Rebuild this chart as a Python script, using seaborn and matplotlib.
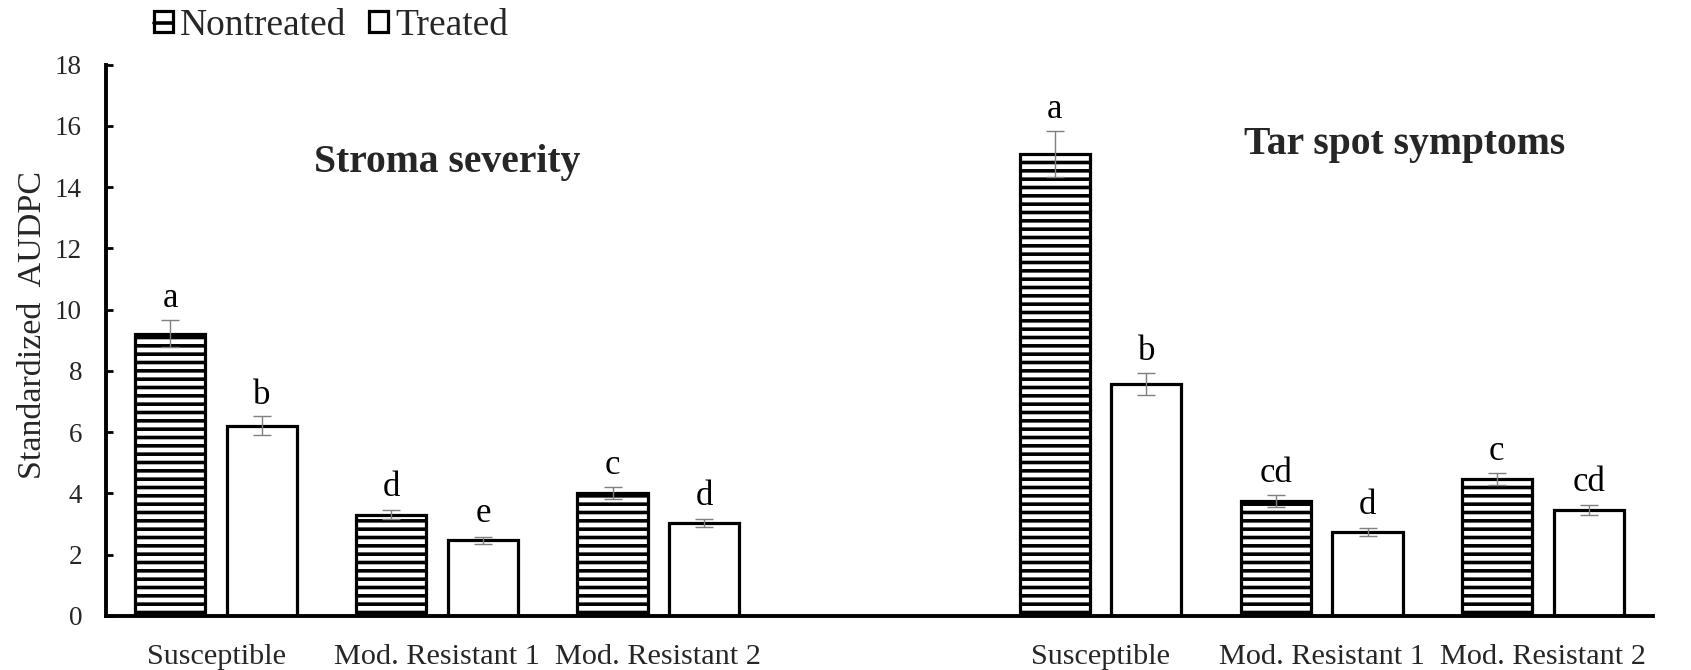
import numpy as np
import pandas as pd
import matplotlib
matplotlib.use("Agg")
import matplotlib.pyplot as plt
import matplotlib.patches as mpatches
from matplotlib.lines import Line2D
from matplotlib.legend_handler import HandlerTuple
import seaborn as sns

# ---- data -------------------------------------------------------------
genotypes = ["Susceptible", "Mod. Resistant 1", "Mod. Resistant 2"]
panels = ["Stroma severity", "Tar spot symptoms"]
treatments = ["Nontreated", "Treated"]

stroma_nontreated = [9.22, 3.30, 4.02]
stroma_nontreated_se = [0.45, 0.15, 0.20]
stroma_treated = [6.20, 2.47, 3.03]
stroma_treated_se = [0.31, 0.11, 0.14]

tar_nontreated = [15.08, 3.76, 4.46]
tar_nontreated_se = [0.75, 0.19, 0.20]
tar_treated = [7.57, 2.74, 3.46]
tar_treated_se = [0.37, 0.12, 0.16]

stroma_letters_nt = ["a", "d", "c"]
stroma_letters_t = ["b", "e", "d"]
tar_letters_nt = ["a", "cd", "c"]
tar_letters_t = ["b", "d", "cd"]

y_label = "Standardized  AUDPC"

# ---- long table, one slot per genotype with a spacer between panels ------
slots = [f"stroma:{g}" for g in genotypes] + ["spacer"] + [f"tar:{g}" for g in genotypes]
slot_labels = genotypes + [""] + genotypes

rows = []
for prefix, nt, nt_se, nt_l, tr, tr_se, tr_l in [
    ("stroma", stroma_nontreated, stroma_nontreated_se, stroma_letters_nt,
     stroma_treated, stroma_treated_se, stroma_letters_t),
    ("tar", tar_nontreated, tar_nontreated_se, tar_letters_nt,
     tar_treated, tar_treated_se, tar_letters_t),
]:
    for i, g in enumerate(genotypes):
        rows.append(dict(slot=f"{prefix}:{g}", treatment="Nontreated",
                         value=nt[i], se=nt_se[i], letter=nt_l[i]))
        rows.append(dict(slot=f"{prefix}:{g}", treatment="Treated",
                         value=tr[i], se=tr_se[i], letter=tr_l[i]))
df = pd.DataFrame(rows)

# ---- style -------------------------------------------------------------
sns.set_style("white")
plt.rcParams["font.family"] = ["Liberation Serif", "DejaVu Serif"]
plt.rcParams["hatch.linewidth"] = 2.6
plt.rcParams["hatch.color"] = "black"
plt.rcParams["axes.linewidth"] = 2.8

fig = plt.figure(figsize=(16.91, 6.70), dpi=100)
ax = fig.add_axes([0.0625, 0.0809, 0.9777 - 0.0625, 0.9034 - 0.0809])

sns.barplot(data=df, x="slot", y="value", hue="treatment",
            order=slots, hue_order=treatments,
            palette=["white", "white"], edgecolor="black", linewidth=2.3,
            width=0.83, gap=0.236, errorbar=None, legend=False, ax=ax)

# hatch the nontreated bars
hatches = {"Nontreated": "--", "Treated": ""}
for level, cont in zip(treatments, ax.containers):
    for bar in cont:
        bar.set_hatch(hatches[level])

# error bars and significance letters, placed on the drawn bars
lookup = {(r.slot, r.treatment): r for r in df.itertuples()}
for level, cont in zip(treatments, ax.containers):
    for bar in cont:
        xc = bar.get_x() + bar.get_width() / 2
        slot = slots[int(round(xc))]
        r = lookup[(slot, level)]
        ax.errorbar(xc, r.value, yerr=r.se, fmt="none", ecolor="#7f7f7f",
                    elinewidth=1.0, capsize=6.8, capthick=1.0, zorder=4)
        y_txt = max(r.value + 0.6, r.value + r.se + 0.42)
        ax.text(xc, y_txt, r.letter, ha="center", va="baseline",
                fontsize=25, color="black")

# panel titles
ax.text(1.046, 14.5, panels[0], ha="center", va="baseline",
        fontsize=28.5, fontweight="bold")
ax.text(5.376, 15.07, panels[1], ha="center", va="baseline",
        fontsize=28.5, fontweight="bold")

# axes
ax.set_xlim(-0.5, len(slots) - 0.5)
ax.set_ylim(0, 18)
ax.set_yticks(np.arange(0, 19, 2))
ax.set_xticks(np.arange(len(slots)))
ax.set_xticklabels(slot_labels)
ax.set_xticks(np.arange(-0.5, len(slots), 1), minor=True)
ax.set_xlabel("")
ax.set_ylabel(y_label, fontsize=24.5, labelpad=0)
ax.yaxis.set_label_coords(-0.0375, 0.5277)

ax.tick_params(axis="x", which="major", direction="out", length=4.5, width=2,
               labelsize=21.8, pad=16, color="black")
ax.tick_params(axis="x", which="minor", direction="in", length=6, width=2,
               color="black")
ax.tick_params(axis="y", which="major", direction="in", length=5, width=2,
               labelsize=19.5, pad=17, color="black", left=True)

for side in ("top", "right"):
    ax.spines[side].set_visible(False)
for side in ("left", "bottom"):
    ax.spines[side].set_color("black")

# legend: boxed swatches, the nontreated one with a single stripe
nt_box = mpatches.Patch(facecolor="white", edgecolor="black", linewidth=2.3)
nt_stripe = Line2D([], [], color="black", linewidth=2.6)
t_box = mpatches.Patch(facecolor="white", edgecolor="black", linewidth=2.3)
fig.legend(handles=[(nt_box, nt_stripe), t_box], labels=treatments,
           handler_map={tuple: HandlerTuple(ndivide=1)},
           loc="upper left", bbox_to_anchor=(154 / 1691, 1 - 8.5 / 670),
           ncol=2, frameon=False, fontsize=27,
           handlelength=0.5, handleheight=0.5,
           handletextpad=0.2, columnspacing=0.6, borderpad=0,
           borderaxespad=0)

fig.savefig("out.png", dpi=100, facecolor="white")
